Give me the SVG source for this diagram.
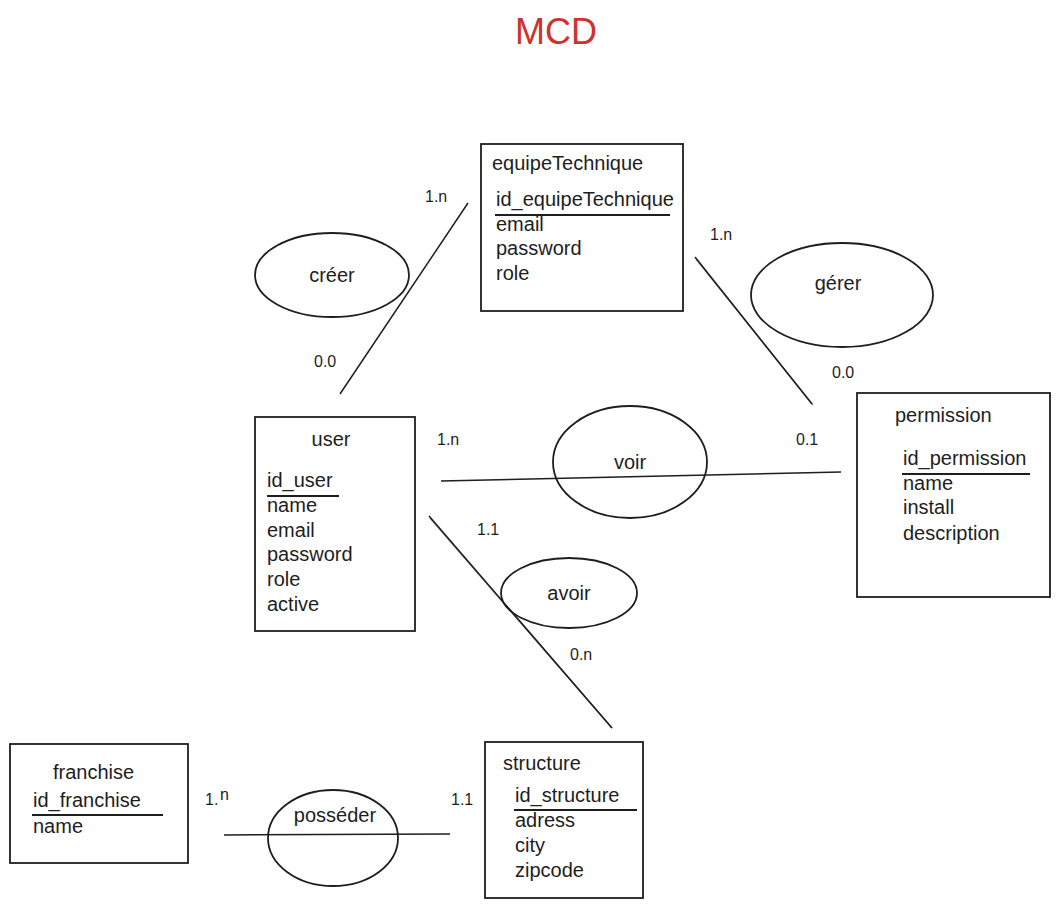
<svg xmlns="http://www.w3.org/2000/svg" width="1059" height="908" viewBox="0 0 1059 908">
  <style>
    .box { fill: #ffffff; stroke: #1e1e1e; stroke-width: 1.8; }
    .rel { fill: none; stroke: #1e1e1e; stroke-width: 1.8; }
    .link { fill: none; stroke: #1e1e1e; stroke-width: 1.5; }
    .key { stroke: #1e1e1e; stroke-width: 1.8; }
    .t { font-family: "Liberation Sans", "Noto Sans", sans-serif; font-size: 20px; fill: #1e1e1e; }
    .card { font-family: "Liberation Sans", "Noto Sans", sans-serif; font-size: 16px; fill: #1e1e1e; }
    .title { font-family: "Liberation Sans", Arial, sans-serif; font-size: 36px; fill: #d0312d; }
  </style>
  <rect width="1059" height="908" fill="#ffffff"/>

  <text class="title" x="556" y="44" text-anchor="middle">MCD</text>

  <!-- connectors and cardinalities -->
  <g id="connectors">
    <line class="link" x1="468" y1="203" x2="340" y2="394"/>
    <line class="link" x1="695" y1="257" x2="812" y2="404"/>
    <line class="link" x1="696" y1="259" x2="813" y2="405" stroke-opacity="0.5"/>
    <line class="link" x1="441" y1="481" x2="841" y2="472"/>
    <line class="link" x1="429" y1="516" x2="612" y2="728"/>
    <line class="link" x1="430" y1="518" x2="612" y2="728" stroke-opacity="0.5"/>
    <line class="link" x1="224" y1="835" x2="450" y2="834"/>

    <text class="card" x="425" y="202">1.n</text>
    <text class="card" x="314" y="367" font-size="19">0.0</text>
    <text class="card" x="710" y="240">1.n</text>
    <text class="card" x="832" y="378" font-size="19">0.0</text>
    <text class="card" x="437" y="445">1.n</text>
    <text class="card" x="796" y="445" font-size="17">0.1</text>
    <text class="card" x="477" y="535">1.1</text>
    <text class="card" x="570" y="660" font-size="18">0.n</text>
    <text class="card" x="205" y="805">1.</text>
    <text class="card" x="220" y="800" font-size="13">n</text>
    <text class="card" x="451" y="805">1.1</text>
  </g>

  <!-- relationships -->
  <g id="rel-creer">
    <ellipse class="rel" cx="332" cy="275" rx="77" ry="42"/>
    <text class="t" x="332" y="282" text-anchor="middle">créer</text>
  </g>
  <g id="rel-gerer">
    <ellipse class="rel" cx="842" cy="295" rx="91" ry="52"/>
    <text class="t" x="838" y="290" text-anchor="middle">gérer</text>
  </g>
  <g id="rel-voir">
    <ellipse class="rel" cx="630" cy="462" rx="77" ry="56"/>
    <text class="t" x="630" y="469" text-anchor="middle">voir</text>
  </g>
  <g id="rel-avoir">
    <ellipse class="rel" cx="569" cy="593" rx="68" ry="35"/>
    <text class="t" x="569" y="600" text-anchor="middle">avoir</text>
  </g>
  <g id="rel-posseder">
    <ellipse class="rel" cx="333" cy="838" rx="65" ry="48"/>
    <text class="t" x="335" y="822" text-anchor="middle">posséder</text>
  </g>

  <!-- entities -->
  <g id="equipeTechnique">
    <rect class="box" x="481" y="144" width="202" height="167"/>
    <text class="t" x="492" y="170">equipeTechnique</text>
    <text class="t" x="496" y="206">id_equipeTechnique</text>
    <line class="key" x1="495" y1="215" x2="670" y2="215"/>
    <text class="t" x="496" y="231">email</text>
    <text class="t" x="496" y="255">password</text>
    <text class="t" x="496" y="280">role</text>
  </g>

  <g id="user">
    <rect class="box" x="255" y="417" width="160" height="214"/>
    <text class="t" x="331" y="446" text-anchor="middle">user</text>
    <text class="t" x="267" y="487">id_user</text>
    <line class="key" x1="267" y1="496" x2="339" y2="496"/>
    <text class="t" x="267" y="512">name</text>
    <text class="t" x="267" y="537">email</text>
    <text class="t" x="267" y="561">password</text>
    <text class="t" x="267" y="586">role</text>
    <text class="t" x="267" y="611">active</text>
  </g>

  <g id="permission">
    <rect class="box" x="857" y="393" width="193" height="204"/>
    <text class="t" x="895" y="422">permission</text>
    <text class="t" x="903" y="465">id_permission</text>
    <line class="key" x1="902" y1="474" x2="1030" y2="474"/>
    <text class="t" x="903" y="490">name</text>
    <text class="t" x="903" y="514">install</text>
    <text class="t" x="903" y="540">description</text>
  </g>

  <g id="franchise">
    <rect class="box" x="10" y="744" width="178" height="119"/>
    <text class="t" x="53" y="779">franchise</text>
    <text class="t" x="33" y="807">id_franchise</text>
    <line class="key" x1="32" y1="815" x2="163" y2="815"/>
    <text class="t" x="33" y="833">name</text>
  </g>

  <g id="structure">
    <rect class="box" x="485" y="742" width="158" height="156"/>
    <text class="t" x="503" y="770">structure</text>
    <text class="t" x="515" y="802">id_structure</text>
    <line class="key" x1="514" y1="810" x2="637" y2="810"/>
    <text class="t" x="515" y="827">adress</text>
    <text class="t" x="515" y="852">city</text>
    <text class="t" x="515" y="877">zipcode</text>
  </g>
</svg>
